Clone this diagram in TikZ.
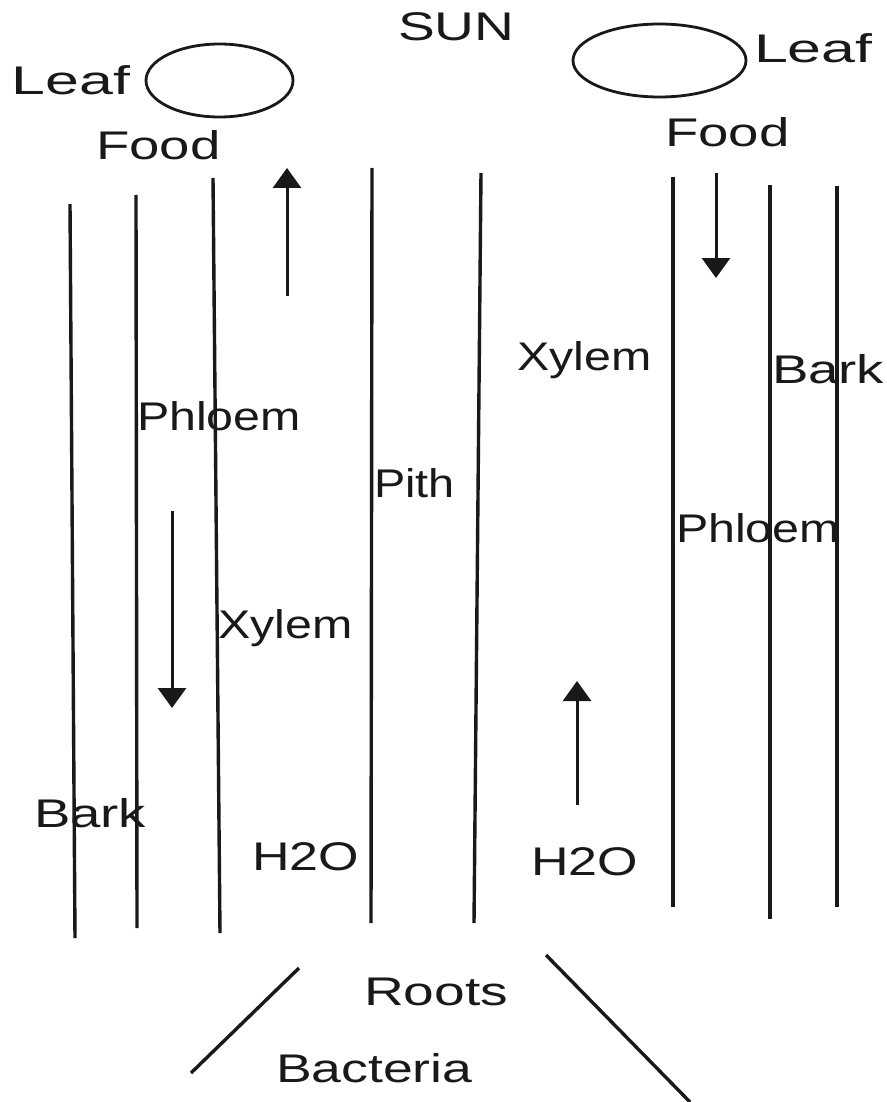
\documentclass[tikz,border=0pt]{standalone}
\usepackage{fontspec}
\setmainfont{Liberation Sans}[FakeStretch=1.3]
\usetikzlibrary{arrows.meta}
\newcommand{\wide}[2]{\scalebox{#1}[1]{#2}}
\tikzset{
  stem/.style={line width=3.4pt, black!90},
  flow/.style={line width=3pt, black!90, -{Triangle[width=28pt,length=20pt]}},
  leafshape/.style={line width=2.8pt, black!90},
  lbl/.style={anchor=base west, inner sep=0pt, outer sep=0pt, text=black!90, font=\fontsize{40pt}{40pt}\selectfont},
}
\begin{document}
\begin{tikzpicture}[x=1pt,y=-1pt]
\useasboundingbox (0,0) rectangle (886,1102);
% leaves
\draw[leafshape] (219.5,80.5) ellipse [x radius=73.5, y radius=36.5];
\draw[leafshape] (659.5,60.5) ellipse [x radius=86.5, y radius=36.5];
% stem lines
\draw[stem] (70,204) -- (75,938);
\draw[stem] (136,195) -- (137,928);
\draw[stem] (213,178) -- (220,933);
\draw[stem] (372,168) -- (371,923);
\draw[stem] (481,173) -- (474,923);
\draw[stem] (673,177) -- (673,907);
\draw[stem] (770,185) -- (770,919);
\draw[stem] (837,186) -- (837,907);
% roots
\draw[stem] (299,968) -- (191,1073);
\draw[stem] (546,955) -- (690,1102);
% arrows
\coordinate (a1s) at (287,296); \coordinate (a1e) at (287,168);
\coordinate (a2s) at (172,511); \coordinate (a2e) at (172,708);
\coordinate (a3s) at (577,805); \coordinate (a3e) at (577,681);
\coordinate (a4s) at (716,173); \coordinate (a4e) at (716,278);
\draw[flow] (a1s) -- (a1e);
\draw[flow] (a2s) -- (a2e);
\draw[flow] (a3s) -- (a3e);
\draw[flow] (a4s) -- (a4e);
% labels
\node[lbl] (sun) at (398,41) {\wide{1.06}{SUN}};
\node[lbl] (leafL) at (12,95) {\wide{1.17}{Leaf}};
\node[lbl] (leafR) at (754,63) {\wide{1.17}{Leaf}};
\node[lbl] (foodL) at (96,160) {\wide{1.05}{Food}};
\node[lbl] (foodR) at (665,147) {\wide{1.05}{Food}};
\node[lbl] (xylR) at (517,370) {\wide{0.93}{Xylem}};
\node[lbl] (barkR) at (772,383) {\wide{1.05}{Bark}};
\node[lbl] (phlL) at (137,430) {\wide{0.93}{Phloem}};
\node[lbl] (pith) at (374,497) {\wide{0.9}{Pith}};
\node[lbl] (phlR) at (676,542) {\wide{0.93}{Phloem}};
\node[lbl] (xylL) at (218,638) {\wide{0.93}{Xylem}};
\node[lbl] (barkL) at (34,827) {\wide{1.05}{Bark}};
\node[lbl] (h2oL) at (252,870) {\wide{1.0}{H2O}};
\node[lbl] (h2oR) at (531,875) {\wide{1.0}{H2O}};
\node[lbl] (roots) at (364,1005) {\wide{1.06}{Roots}};
\node[lbl] (bact) at (276,1082) {\wide{1.03}{Bacteria}};
\end{tikzpicture}
\end{document}
